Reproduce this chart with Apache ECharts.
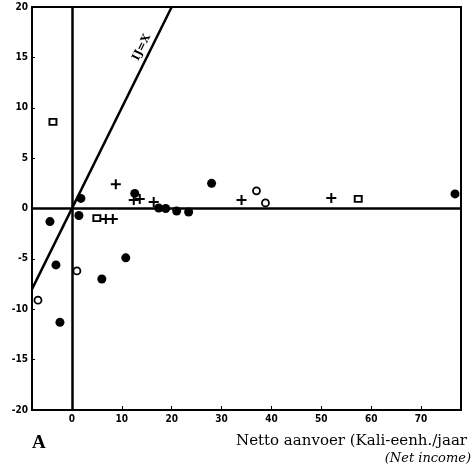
<!DOCTYPE html>
<html>
<head>
<meta charset="utf-8">
<script src="https://cdn.jsdelivr.net/npm/echarts@6/dist/echarts.min.js"></script>
<style>html,body{margin:0;padding:0;background:#fff;}#c{width:473px;height:465px;}</style>
</head>
<body>
<div id="c"></div>
<script>
// Data
const xTickLabels = [0, 10, 20, 30, 40, 50, 60, 70];
const yTickLabels = [-20, -15, -10, -5, 0, 5, 10, 15, 20];
const filledCircles = [[-4.4,-1.3],[-3.2,-5.6],[-2.4,-11.3],[1.8,1.0],[1.4,-0.7],[6.0,-7.0],[10.8,-4.9],[12.6,1.5],[17.4,0.05],[18.8,0.0],[21.0,-0.25],[23.4,-0.35],[28.0,2.5],[76.8,1.45]];
const openCircles = [[-6.8,-9.1],[1.0,-6.2],[37.0,1.75],[38.8,0.55]];
const openSquares = [[-3.8,8.6],[5.0,-0.95],[57.4,0.95]];
const plusPoints = [[8.8,2.4],[6.8,-1.05],[8.2,-1.05],[12.4,0.85],[13.6,0.95],[16.4,0.65],[34.0,0.85],[52.0,1.05]];
const diagonal = [[-8,-8],[20,20]];
const diagonalLabel = 'IJ=X';
const diagonalLabelAt = [15.6, 15.6];
const xAxisTitle = 'Netto aanvoer (Kali-eenh./jaar';
const xAxisSubtitle = '(Net income)';
const panelLetter = 'A';

const chart = echarts.init(document.getElementById('c'));
const plusPath = 'path://M4,0H6V4H10V6H6V10H4V6H0V4H4Z';
const baseOption = {
  animation: false,
  backgroundColor: '#fff',
  grid: { left: 32, right: 12, top: 7, bottom: 55, show: true, borderColor: '#000', borderWidth: 2 },
  xAxis: {
    type: 'value', min: -8, max: 78,
    axisLine: { show: true, onZero: false, lineStyle: { color: '#000', width: 2 } },
    axisTick: { show: true, inside: true, length: 4, customValues: xTickLabels, lineStyle: { color: '#000', width: 1 } },
    axisLabel: { customValues: xTickLabels, color: '#000', fontSize: 10, fontWeight: 'bold', fontFamily: 'DejaVu Sans Condensed, DejaVu Sans', margin: 4 },
    splitLine: { show: false }
  },
  yAxis: {
    type: 'value', min: -20, max: 20, interval: 5,
    axisLine: { show: true, onZero: false, lineStyle: { color: '#000', width: 2 } },
    axisTick: { show: true, inside: true, length: 3, lineStyle: { color: '#000', width: 1 } },
    axisLabel: { color: '#000', fontSize: 10, fontWeight: 'bold', fontFamily: 'DejaVu Sans Condensed, DejaVu Sans', margin: 4 },
    splitLine: { show: false }
  },
  series: [
    {
      type: 'line', data: diagonal, symbol: 'none', clip: true,
      lineStyle: { color: '#000', width: 2.5 },
      markLine: {
        silent: true, symbol: 'none', animation: false,
        lineStyle: { color: '#000', width: 2.5, type: 'solid' },
        label: { show: false },
        data: [{ xAxis: 0 }, { yAxis: 0 }]
      }
    },
    { type: 'scatter', data: filledCircles, symbol: 'circle', symbolSize: 9, itemStyle: { color: '#000', opacity: 1 } },
    { type: 'scatter', data: openCircles, symbol: 'circle', symbolSize: 7, itemStyle: { color: '#fff', borderColor: '#000', borderWidth: 1.8, opacity: 1 } },
    { type: 'scatter', data: openSquares, symbol: 'rect', symbolSize: [7, 6], itemStyle: { color: '#fff', borderColor: '#000', borderWidth: 1.8, opacity: 1 } },
    { type: 'scatter', data: plusPoints, symbol: plusPath, symbolSize: 10, itemStyle: { color: '#000', opacity: 1 } }
  ]
};
chart.setOption(baseOption);

// label along the diagonal line, positioned via the chart's own scales
const p0 = chart.convertToPixel({ gridIndex: 0 }, diagonal[0]);
const p1 = chart.convertToPixel({ gridIndex: 0 }, diagonal[1]);
const ang = Math.atan2(p0[1] - p1[1], p1[0] - p0[0]);
const pl = chart.convertToPixel({ gridIndex: 0 }, diagonalLabelAt);
const off = 9;
chart.setOption({
  graphic: [
    { type: 'text', x: pl[0] - off * Math.sin(ang), y: pl[1] - off * Math.cos(ang), rotation: ang,
      style: { text: diagonalLabel, font: 'bold 11px "DejaVu Serif", serif', fill: '#000', align: 'center', verticalAlign: 'middle' } },
    { type: 'text', right: 6, top: 434, style: { text: xAxisTitle, font: '15px "DejaVu Serif", serif', fill: '#000' } },
    { type: 'text', right: 2, top: 452, style: { text: xAxisSubtitle, font: 'italic 13px "DejaVu Serif", serif', fill: '#000' } },
    { type: 'text', left: 32, top: 434, style: { text: panelLetter, font: 'bold 19px "Liberation Serif", serif', fill: '#000' } }
  ]
});
</script>
</body>
</html>
